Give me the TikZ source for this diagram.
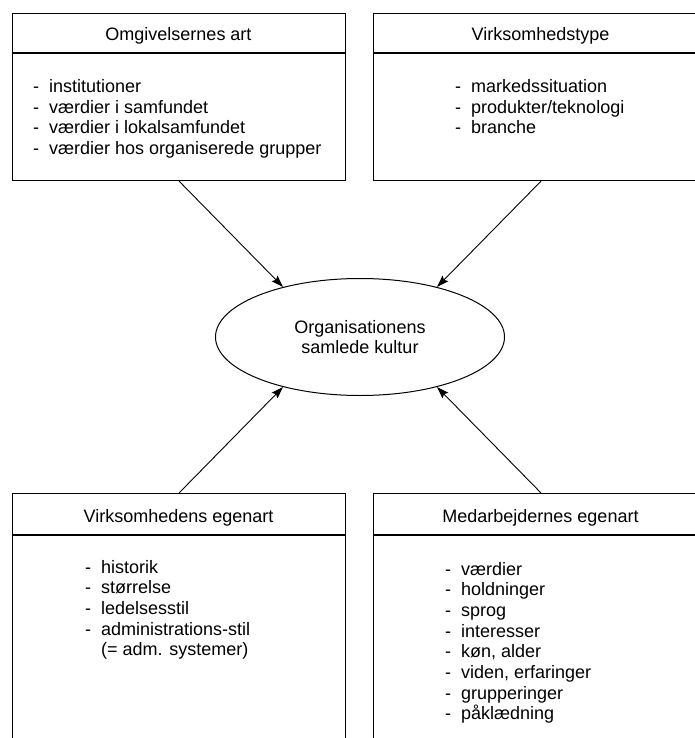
\documentclass[tikz,border=0pt]{standalone}
\usepackage{fontspec}
\setmainfont{Liberation Sans}
\usetikzlibrary{shapes.geometric}
\usetikzlibrary{arrows.meta}

\newcommand{\listdash}{\makebox[16pt][l]{-}}

\tikzset{
 txt/.style={font=\fontsize{18}{20.7}\selectfont, inner sep=0},
 box/.style={draw, line width=1.1pt, inner sep=0, anchor=north west},
 boxtitle/.style={txt, anchor=base},
 item/.style={txt, anchor=base west},
 arr/.style={line width=0.9pt, -{Stealth[length=12pt,width=8pt,inset=2pt]}}
}

\begin{document}
\begin{tikzpicture}[x=1pt, y=-1pt]
\useasboundingbox (0,0) rectangle (695,738);
% the four boxes
\node[box, minimum width=333pt, minimum height=167pt] (omg) at (12,13) {};
\node[box, minimum width=335pt, minimum height=167pt] (vt) at (373,13) {};
\node[box, minimum width=333pt, minimum height=267pt] (ve) at (12,493) {};
\node[box, minimum width=335pt, minimum height=267pt] (me) at (373,493) {};
\foreach \b in {omg, vt}
 \draw[line width=1.1pt] (\b.north west) ++(0,40) -- (\b.north east |- 0,53);
\foreach \b in {ve, me}
 \draw[line width=1.1pt] (\b.north west) ++(0,42) -- (\b.north east |- 0,535);
% titles
\node[boxtitle] (omg-t) at (178.5,40.5) {Omgivelsernes art};
\node[boxtitle] (vt-t) at (540.5,40.5) {Virksomhedstype};
\node[boxtitle] (ve-t) at (178.5,522) {Virksomhedens egenart};
\node[boxtitle] (me-t) at (540.5,522) {Medarbejdernes egenart};
% lists
\foreach \t [count=\i] in {institutioner, værdier i samfundet, værdier i lokalsamfundet, værdier hos organiserede grupper}
 \node[item] (omg-\i) at (33,{92.5+20.7*(\i-1)}) {\listdash\t};
\foreach \t [count=\i] in {markedssituation, produkter/teknologi, branche}
 \node[item] (vt-\i) at (455,{92.5+20.7*(\i-1)}) {\listdash\t};
\foreach \t [count=\i] in {historik, størrelse, ledelsesstil, administrations-stil}
 \node[item] (ve-\i) at (85,{573+20.7*(\i-1)}) {\listdash\t};
\node[item] (ve-5) at (85,{573+20.7*4}) {\makebox[16pt]{}(= adm. systemer)};
\foreach \t [count=\i] in {værdier, holdninger, sprog, interesser, {køn, alder}, {viden, erfaringer}, grupperinger, påklædning}
 \node[item] (me-\i) at (445,{575+20.7*(\i-1)}) {\listdash\t};
% centre
\node[ellipse, draw, line width=1pt, minimum width=289pt, minimum height=117pt, inner sep=0, align=center, txt] (kultur) at (360,337) {Organisationens\\samlede kultur};
\draw[arr] (omg.south) -- (kultur.147);
\draw[arr] (vt.south) -- (kultur.33);
\draw[arr] (ve.north) -- (kultur.213);
\draw[arr] (me.north) -- (kultur.327);
\end{tikzpicture}
\end{document}
